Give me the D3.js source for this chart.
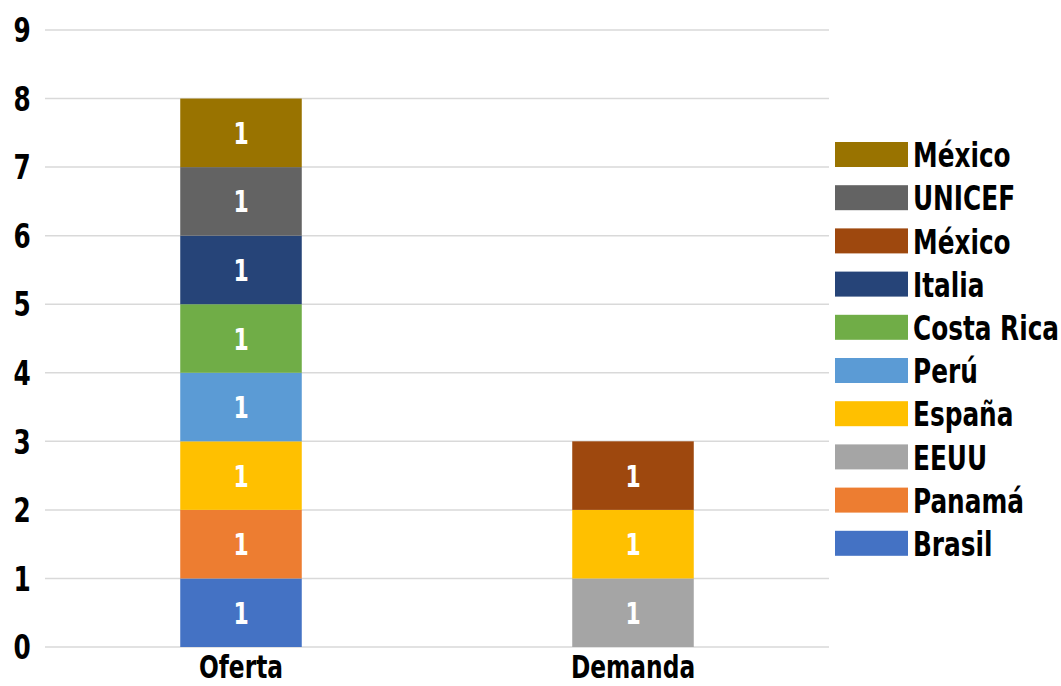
<!DOCTYPE html>
<head>
    <meta charset="utf-8">
    <title>oferta demanda</title>
    <style>
        body { margin: 0; background: #fff; }
        text { font-family: "DejaVu Sans Condensed", "DejaVu Sans", sans-serif; font-weight: bold; }
    </style>
</head>
<body>
    <svg width="1061" height="686"></svg>
    <script src="https://d3js.org/d3.v7.min.js"></script>
    <script>
        // data
        var categories = ["Oferta", "Demanda"];
        var seriesNames = ["Brasil", "Panamá", "EEUU", "España", "Perú", "Costa Rica", "Italia", "México", "UNICEF", "México"];
        var seriesColors = ["#4472C4", "#ED7D31", "#A5A5A5", "#FFC000", "#5B9BD5", "#70AD47", "#264478", "#9E480E", "#636363", "#997300"];
        var oferta = [1, 1, 0, 1, 1, 1, 1, 0, 1, 1];
        var demanda = [0, 0, 1, 1, 0, 0, 0, 1, 0, 0];
        var yTicks = [0, 1, 2, 3, 4, 5, 6, 7, 8, 9];

        var svg = d3.select("svg"),
            margin = { top: 30, right: 232, bottom: 39, left: 45 },
            width = +svg.attr("width") - margin.left - margin.right,
            height = +svg.attr("height") - margin.top - margin.bottom,
            g = svg.append("g").attr("transform", "translate(" + margin.left + "," + margin.top + ")");

        var sx = 0.81; // squeeze to look like the condensed font of the original

        // table for the stack
        var rows = categories.map(function (c, i) {
            var vals = i == 0 ? oferta : demanda;
            var r = { cat: c };
            seriesNames.forEach(function (s, k) { r["s" + k] = vals[k]; });
            return r;
        });
        var keys = seriesNames.map(function (s, k) { return "s" + k; });
        var stacked = d3.stack().keys(keys)(rows);

        var x = d3.scaleBand().domain(categories).range([0, width]).paddingInner(0.69).paddingOuter(0.345);
        var y = d3.scaleLinear().domain([0, 9]).range([height, 0]);

        // gridlines
        g.append("g").selectAll("line")
            .data(yTicks)
            .enter().append("line")
            .attr("x1", 0).attr("x2", width)
            .attr("y1", function (d) { return y(d); })
            .attr("y2", function (d) { return y(d); })
            .attr("stroke", "#d9d9d9")
            .attr("stroke-width", 1.5);

        // y axis labels
        g.append("g").selectAll("text")
            .data(yTicks)
            .enter().append("text")
            .attr("transform", function (d) { return "translate(-23," + y(d) + ") scale(" + sx + ",1)"; })
            .attr("dy", "0.36em")
            .attr("text-anchor", "middle")
            .style("font-size", "34px")
            .attr("fill", "#000")
            .text(function (d) { return d; });

        // bars
        var layer = g.selectAll(".layer")
            .data(stacked)
            .enter().append("g")
            .attr("class", "layer")
            .attr("fill", function (d, i) { return seriesColors[i]; });

        layer.selectAll("rect")
            .data(function (d) { return d.filter(function (p) { return p[1] - p[0] > 0; }); })
            .enter().append("rect")
            .attr("x", function (d) { return x(d.data.cat); })
            .attr("width", x.bandwidth())
            .attr("y", function (d) { return y(d[1]); })
            .attr("height", function (d) { return y(d[0]) - y(d[1]); });

        layer.selectAll("text")
            .data(function (d) { return d.filter(function (p) { return p[1] - p[0] > 0; }); })
            .enter().append("text")
            .attr("transform", function (d) {
                return "translate(" + (x(d.data.cat) + x.bandwidth() / 2) + "," + ((y(d[0]) + y(d[1])) / 2) + ") scale(" + sx + ",1)";
            })
            .attr("dy", "0.37em")
            .attr("text-anchor", "middle")
            .attr("fill", "#fff")
            .style("font-size", "30px")
            .text(function (d) { return d[1] - d[0]; });

        // x labels
        g.append("g").selectAll("text")
            .data(categories)
            .enter().append("text")
            .attr("transform", function (d) { return "translate(" + (x(d) + x.bandwidth() / 2) + "," + (height + 31) + ") scale(" + sx + ",1)"; })
            .attr("text-anchor", "middle")
            .style("font-size", "32px")
            .attr("fill", "#000")
            .text(function (d) { return d; });

        // legend, top entry is the last series
        var legend = svg.append("g").attr("transform", "translate(835,142)");
        var order = d3.range(seriesNames.length).reverse();
        var item = legend.selectAll("g")
            .data(order)
            .enter().append("g")
            .attr("transform", function (d, i) { return "translate(0," + (i * 43.2) + ")"; });
        item.append("rect")
            .attr("width", 73).attr("height", 25)
            .attr("fill", function (d) { return seriesColors[d]; });
        item.append("text")
            .attr("transform", "translate(78,13) scale(" + sx + ",1)")
            .attr("dy", "0.36em")
            .style("font-size", "34px")
            .attr("fill", "#000")
            .text(function (d) { return seriesNames[d]; });
    </script>
</body>
